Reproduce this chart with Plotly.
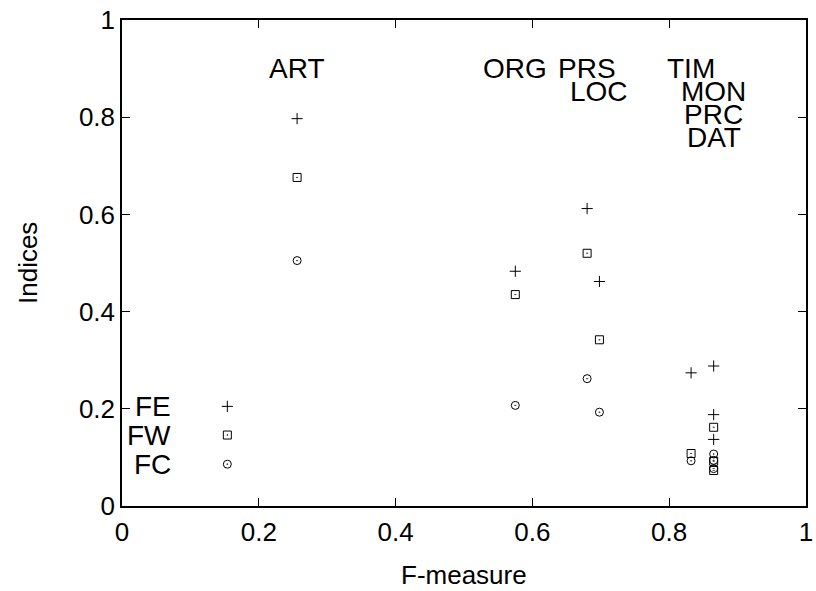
import plotly.graph_objects as go

# ---- data ----
categories = ["ART", "ORG", "PRS", "LOC", "TIM", "MON", "PRC", "DAT"]
f_measure = [0.256, 0.575, 0.680, 0.698, 0.832, 0.865, 0.865, 0.865]
fe_values = [0.797, 0.483, 0.612, 0.462, 0.274, 0.288, 0.188, 0.137]
fw_values = [0.676, 0.435, 0.520, 0.342, 0.108, 0.162, 0.092, 0.073]
fc_values = [0.505, 0.207, 0.262, 0.193, 0.093, 0.107, 0.094, 0.077]
label_level = [0, 0, 0, 1, 0, 1, 2, 3]
series_names = ["FE", "FW", "FC"]
x_ticks = [0, 0.2, 0.4, 0.6, 0.8, 1]
x_tick_text = ["0", "0.2", "0.4", "0.6", "0.8", "1"]
y_ticks = [0, 0.2, 0.4, 0.6, 0.8, 1]
y_tick_text = ["0", "0.2", "0.4", "0.6", "0.8", "1"]
x_title = "F-measure"
y_title = "Indices"

FONT = "Liberation Sans, Arial, sans-serif"
symbols = ["cross-thin", "square-open-dot", "circle-open-dot"]
sizes = [8, 8, 8]
series = [fe_values, fw_values, fc_values]

fig = go.Figure()
for name, vals, sym, sz in zip(series_names, series, symbols, sizes):
    fig.add_trace(go.Scatter(
        x=f_measure, y=vals, mode="markers", name=name, showlegend=False,
        marker=dict(symbol=sym, size=sz, color="black",
                    line=dict(color="black", width=1)),
    ))

# key (gnuplot style: label then sample)
key_x_text = 0.075
key_x_mark = 0.154
key_y = [0.205, 0.146, 0.086]
for name, sym, sz, ky in zip(series_names, symbols, sizes, key_y):
    fig.add_trace(go.Scatter(
        x=[key_x_mark], y=[ky], mode="markers", showlegend=False,
        marker=dict(symbol=sym, size=sz, color="black",
                    line=dict(color="black", width=1)),
    ))
    fig.add_annotation(x=key_x_text, y=ky, text=name, showarrow=False,
                       xanchor="right", yanchor="middle",
                       font=dict(family=FONT, size=28, color="black"))

# category labels
for cat, fx, lvl in zip(categories, f_measure, label_level):
    fig.add_annotation(x=fx, y=0.9 - 0.047 * lvl, text=cat, showarrow=False,
                       xanchor="center", yanchor="middle",
                       font=dict(family=FONT, size=28, color="black"))

# axis titles
fig.add_annotation(x=0.5, y=-0.141, xref="paper", yref="paper",
                   text=x_title, showarrow=False, xanchor="center",
                   yanchor="middle",
                   font=dict(family=FONT, size=26, color="black"))
fig.add_annotation(x=-0.1374, y=0.5, xref="paper", yref="paper",
                   text=y_title, showarrow=False, textangle=-90,
                   xanchor="center", yanchor="middle",
                   font=dict(family=FONT, size=26, color="black"))

axis_common = dict(
    range=[0, 1], showgrid=False, zeroline=False, showline=True,
    linecolor="black", linewidth=1.5, mirror="ticks", ticks="inside",
    ticklen=8, tickwidth=1, tickcolor="black", automargin=False,
    tickfont=dict(family=FONT, size=26, color="black"),
)
fig.update_xaxes(**axis_common, tickvals=x_ticks, ticktext=x_tick_text,
                 ticklabelstandoff=2)
fig.update_yaxes(**axis_common, tickvals=y_ticks, ticktext=y_tick_text)

fig.update_layout(
    width=816, height=591,
    margin=dict(l=122, r=10, t=20, b=85),
    paper_bgcolor="white", plot_bgcolor="white",
    showlegend=False,
)

fig.write_html("out.html")
